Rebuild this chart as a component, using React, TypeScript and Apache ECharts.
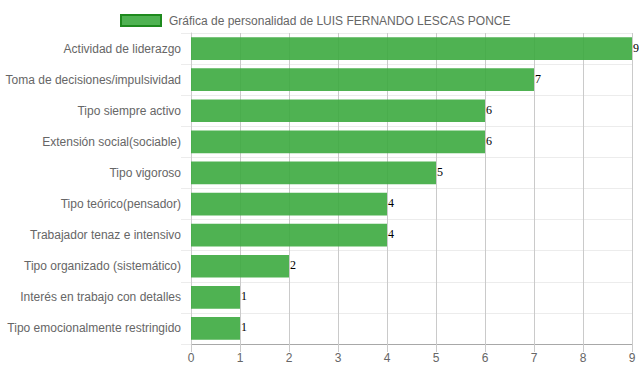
import React, { useEffect, useRef } from "react";
import * as echarts from "echarts";

const categories = [
  "Actividad de liderazgo",
  "Toma de decisiones/impulsividad",
  "Tipo siempre activo",
  "Extensión social(sociable)",
  "Tipo vigoroso",
  "Tipo teórico(pensador)",
  "Trabajador tenaz e intensivo",
  "Tipo organizado (sistemático)",
  "Interés en trabajo con detalles",
  "Tipo emocionalmente restringido",
];
const values = [9, 7, 6, 6, 5, 4, 4, 2, 1, 1];
const seriesName = "Gráfica de personalidad de LUIS FERNANDO LESCAS PONCE";

export default function App() {
  const ref = useRef<HTMLDivElement>(null);
  useEffect(() => {
    if (!ref.current) return;
    const chart = echarts.init(ref.current, undefined, { renderer: "svg" });
    chart.setOption({
      animation: false,
      textStyle: { fontFamily: "Liberation Sans, Arial, sans-serif" },
      legend: {
        top: 9,
        left: 115,
        itemWidth: 40,
        itemHeight: 11,
        itemGap: 10,
        icon: "rect",
        itemStyle: { borderColor: "#1e8a1e", borderWidth: 2 },
        textStyle: { color: "#666", fontSize: 12, fontFamily: "Liberation Sans, Arial, sans-serif", padding: [0, 0, 0, 3] },
        data: [seriesName],
      },
      grid: { left: 191, right: 7, top: 33, bottom: 28, containLabel: false },
      xAxis: {
        type: "value",
        min: 0,
        max: 9,
        interval: 1,
        axisLine: { show: true, lineStyle: { color: "#a8a8a8" } },
        axisTick: { show: true, length: 8, lineStyle: { color: "#cacaca" } },
        splitLine: { show: true, lineStyle: { color: "#cacaca" } },
        axisLabel: { color: "#666", fontSize: 12, margin: 8 },
      },
      yAxis: {
        type: "category",
        inverse: true,
        data: categories,
        axisLine: { show: true, lineStyle: { color: "#cccccc" } },
        axisTick: { show: true, length: 10, lineStyle: { color: "#ececec" } },
        splitLine: { show: true, lineStyle: { color: "#ececec" } },
        axisLabel: { color: "#666", fontSize: 12, margin: 10 },
      },
      series: [
        {
          name: seriesName,
          type: "bar",
          data: values,
          barCategoryGap: "27%",
          itemStyle: { color: "rgba(60,170,63,0.9)" },
          label: {
            show: true,
            position: "right",
            distance: 1,
            offset: [0, -1],
            color: "#000",
            fontSize: 12,
            fontFamily: "Liberation Serif, Times New Roman, serif",
          },
        },
      ],
    });
    return () => chart.dispose();
  }, []);
  return <div ref={ref} style={{ width: 639, height: 372, position: "absolute", left: 0, top: 0 }} />;
}
